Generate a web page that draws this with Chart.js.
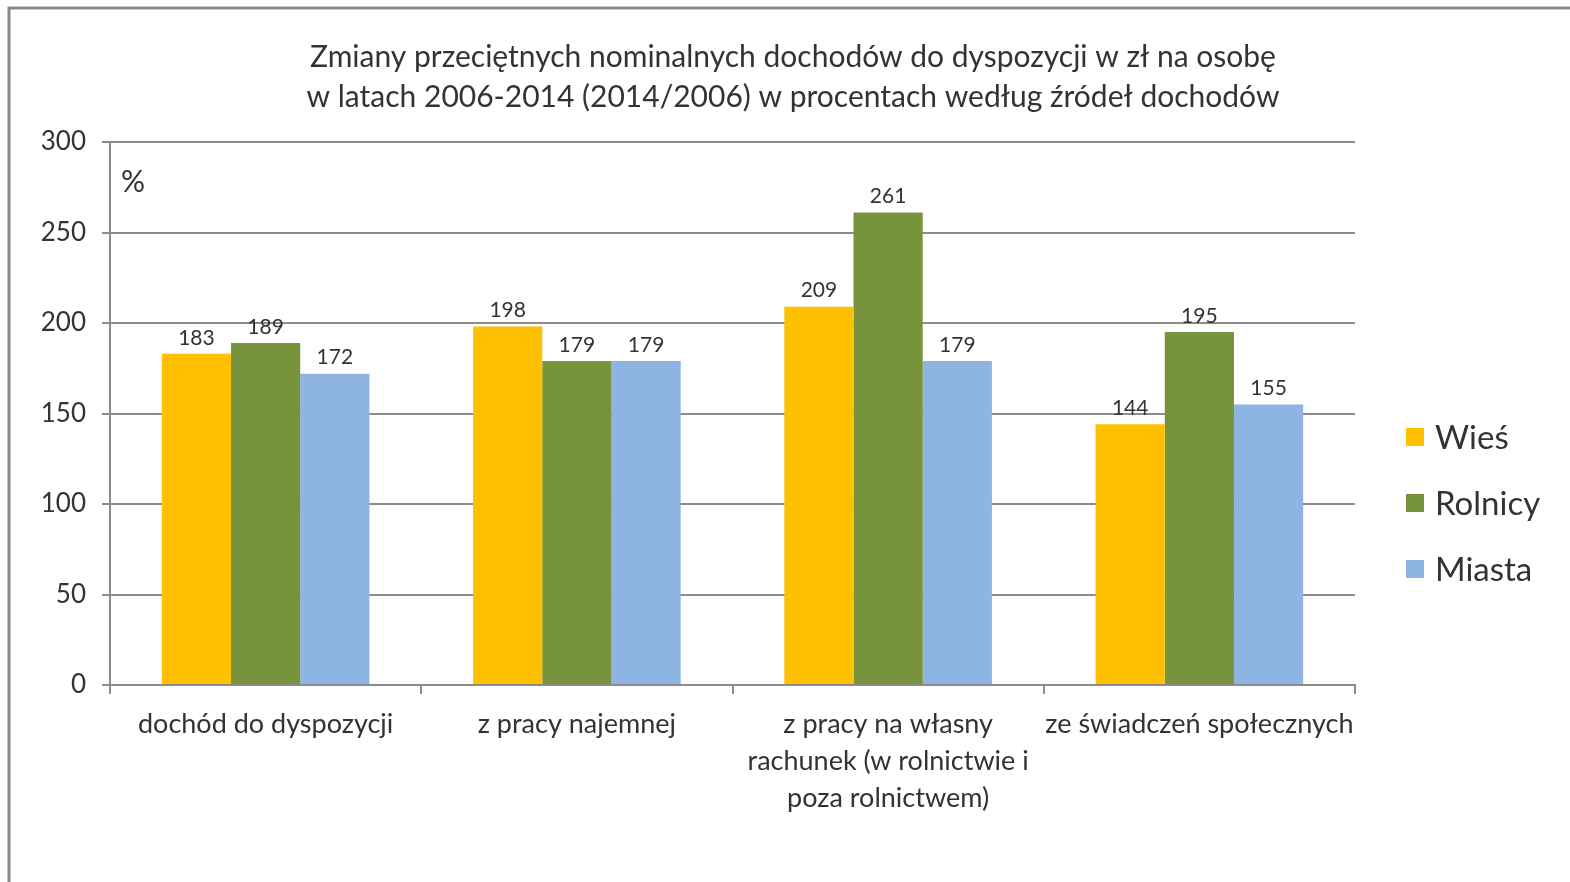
<!DOCTYPE html>
<html>
<head>
<meta charset="utf-8">
<script src="https://cdn.jsdelivr.net/npm/chart.js@4.4.0/dist/chart.umd.min.js"></script>
<style>
  html, body { margin: 0; padding: 0; background: #fff; }
  #wrap { width: 1570px; height: 882px; position: relative; }
</style>
</head>
<body>
<div id="wrap"><canvas id="incomeChart"></canvas></div>
<script>
const titleLines = [
  'Zmiany przeciętnych nominalnych dochodów do dyspozycji w zł na osobę',
  'w latach 2006-2014 (2014/2006) w procentach według źródeł dochodów'
];
const categories = [
  'dochód do dyspozycji',
  'z pracy najemnej',
  ['z pracy na własny', 'rachunek (w rolnictwie i', 'poza rolnictwem)'],
  'ze świadczeń społecznych'
];
const wies = [183, 198, 209, 144];
const rolnicy = [189, 179, 261, 195];
const miasta = [172, 179, 179, 155];
const yTicks = [0, 50, 100, 150, 200, 250, 300];

const FONT = 'Lato, "Open Sans", sans-serif';
const TEXT = '#333333';
const GRID = '#8c8c8c';

// value labels above bars
const barLabels = {
  id: 'barLabels',
  afterDatasetsDraw(chart) {
    const ctx = chart.ctx;
    ctx.save();
    ctx.font = '21px ' + FONT;
    ctx.fillStyle = TEXT;
    ctx.textAlign = 'center';
    ctx.textBaseline = 'middle';
    chart.data.datasets.forEach((ds, i) => {
      chart.getDatasetMeta(i).data.forEach((bar, j) => {
        ctx.fillText(ds.data[j], bar.x, bar.y - 16);
      });
    });
    ctx.restore();
  }
};

// frame, title, % sign and the legend on the right
const extras = {
  id: 'extras',
  afterDraw(chart) {
    const ctx = chart.ctx;
    const area = chart.chartArea;
    ctx.save();
    ctx.strokeStyle = '#8a8a8a';
    ctx.lineWidth = 3;
    ctx.beginPath();
    ctx.moveTo(9, chart.height + 5);
    ctx.lineTo(9, 8);
    ctx.lineTo(chart.width + 5, 8);
    ctx.stroke();

    ctx.fillStyle = TEXT;
    ctx.textAlign = 'center';
    ctx.textBaseline = 'middle';
    ctx.font = '30px ' + FONT;
    titleLines.forEach((line, i) => ctx.fillText(line, 793, 57 + i * 40));

    ctx.textAlign = 'left';
    ctx.font = '30px ' + FONT;
    ctx.fillText('%', area.left + 11, area.top + 40);

    const x0 = 1406;
    chart.data.datasets.forEach((ds, i) => {
      const y = 437 + i * 66;
      ctx.fillStyle = ds.backgroundColor;
      ctx.fillRect(x0, y - 9, 18, 18);
      ctx.fillStyle = TEXT;
      ctx.font = '33px ' + FONT;
      ctx.fillText(ds.label, x0 + 29, y + 1);
    });
    ctx.restore();
  }
};

const ctx = document.getElementById('incomeChart').getContext('2d');
const chart = new Chart(ctx, {
  type: 'bar',
  data: {
    labels: categories,
    datasets: [
      { label: 'Wieś', data: wies, backgroundColor: '#ffc000' },
      { label: 'Rolnicy', data: rolnicy, backgroundColor: '#77933c' },
      { label: 'Miasta', data: miasta, backgroundColor: '#8eb4e3' }
    ]
  },
  options: {
    responsive: true,
    maintainAspectRatio: false,
    animation: false,
    layout: { padding: { top: 142, right: 215, bottom: 0, left: 0 } },
    datasets: {
      bar: { categoryPercentage: 0.667, barPercentage: 1.0 }
    },
    plugins: {
      legend: { display: false },
      tooltip: { enabled: false },
      title: { display: false }
    },
    scales: {
      x: {
        grid: {
          display: true,
          drawOnChartArea: false,
          drawTicks: true,
          tickLength: 9,
          color: GRID,
          lineWidth: 2,
          offset: true
        },
        border: { display: true, color: GRID, width: 2 },
        ticks: {
          color: TEXT,
          font: { family: FONT, size: 27, lineHeight: 1.37 },
          padding: 12,
          maxRotation: 0,
          autoSkip: false
        },
        afterFit(scale) { scale.height = 197; }
      },
      y: {
        min: 0,
        max: 300,
        afterBuildTicks(scale) { scale.ticks = yTicks.map(v => ({ value: v })); },
        grid: {
          color: GRID,
          lineWidth: 2,
          drawTicks: true,
          tickLength: 8
        },
        border: { display: true, color: GRID, width: 2 },
        ticks: {
          color: TEXT,
          font: { family: FONT, size: 26 },
          padding: 16
        },
        afterFit(scale) { scale.width = 110; }
      }
    }
  },
  plugins: [barLabels, extras]
});
</script>
</body>
</html>
